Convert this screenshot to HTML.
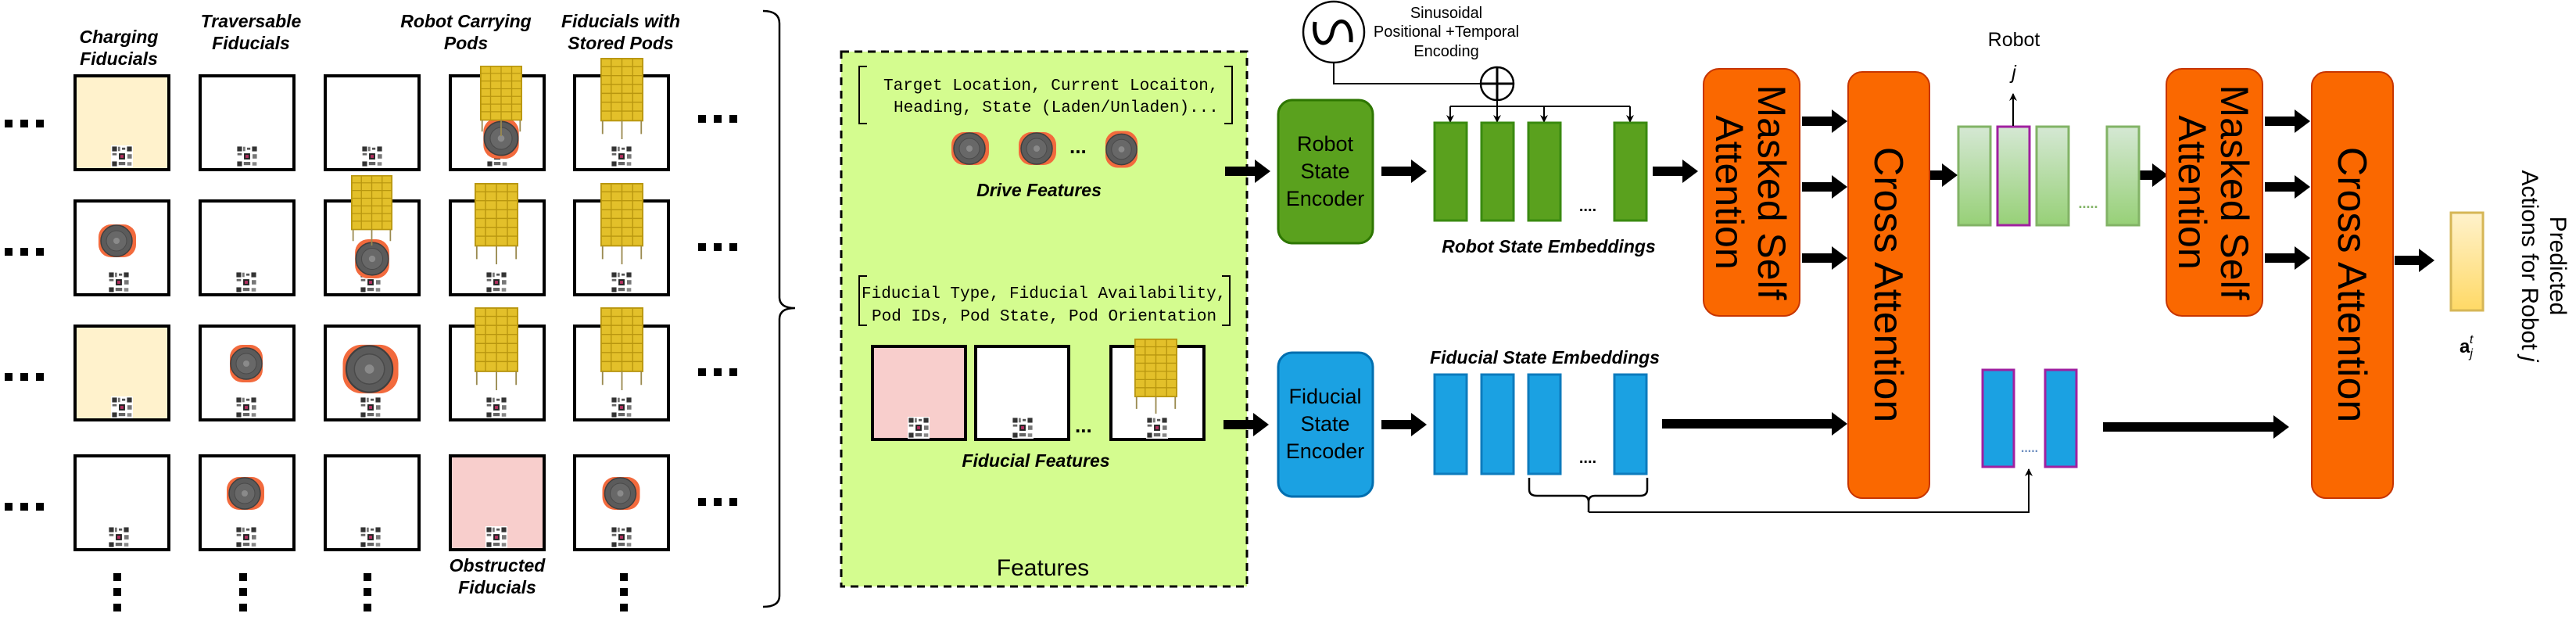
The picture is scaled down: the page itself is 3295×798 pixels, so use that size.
<!DOCTYPE html>
<html><head><meta charset="utf-8"><style>
html,body{margin:0;padding:0;background:#fff}
svg{display:block}
text{font-family:"Liberation Sans",Arial,sans-serif}
.hd{font-weight:bold;font-style:italic;font-size:23px;text-anchor:middle}
.mono{font-family:"Liberation Mono",monospace;font-size:21px}
</style></head><body>
<svg width="3295" height="798" viewBox="0 0 3295 798" xmlns="http://www.w3.org/2000/svg">
<defs>
<symbol id="robot" viewBox="0 0 100 100">
<rect x="2" y="8" width="96" height="84" rx="32" fill="#f26a3d"/>
<circle cx="48" cy="50" r="40" fill="#5b5b5b" stroke="#3f3f3f" stroke-width="3"/>
<circle cx="48" cy="50" r="26" fill="#686868" stroke="#4a4a4a" stroke-width="2"/>
<circle cx="48" cy="50" r="8" fill="#8a8a8a"/>
</symbol>
<symbol id="robotv" viewBox="0 0 100 100">
<rect x="8" y="2" width="84" height="96" rx="32" fill="#f26a3d"/>
<circle cx="50" cy="50" r="40" fill="#5b5b5b" stroke="#3f3f3f" stroke-width="3"/>
<circle cx="50" cy="50" r="26" fill="#686868" stroke="#4a4a4a" stroke-width="2"/>
<circle cx="50" cy="50" r="8" fill="#8a8a8a"/>
</symbol>
<symbol id="pod" viewBox="0 0 60 110" preserveAspectRatio="none">
<rect x="1" y="1" width="58" height="84" fill="#e3c02a" stroke="#b8960f" stroke-width="2"/>
<g stroke="#b8960f" stroke-width="1.5">
<line x1="30" y1="1" x2="30" y2="85"/>
<line x1="15" y1="1" x2="15" y2="85"/><line x1="45" y1="1" x2="45" y2="85"/>
<line x1="1" y1="12" x2="59" y2="12"/><line x1="1" y1="24" x2="59" y2="24"/>
<line x1="1" y1="36" x2="59" y2="36"/><line x1="1" y1="48" x2="59" y2="48"/>
<line x1="1" y1="60" x2="59" y2="60"/><line x1="1" y1="72" x2="59" y2="72"/>
</g>
<g stroke="#9a8a50" stroke-width="2"><line x1="3" y1="85" x2="3" y2="103"/><line x1="57" y1="85" x2="57" y2="103"/><line x1="30" y1="85" x2="30" y2="110"/></g>
</symbol>
<symbol id="qr" viewBox="0 0 10 10">
<rect width="10" height="10" fill="#fff"/>
<rect x="0.5" y="0.5" width="2.2" height="2.2" fill="#333"/><rect x="7.3" y="0.5" width="2.2" height="2.2" fill="#333"/><rect x="0.5" y="7.3" width="2.2" height="2.2" fill="#333"/>
<rect x="3.2" y="0.6" width="1" height="2" fill="#777"/><rect x="5" y="1" width="1.5" height="1" fill="#555"/><rect x="0.6" y="3.5" width="2" height="1" fill="#666"/>
<rect x="7.5" y="4" width="2" height="2" fill="#777"/><rect x="3.5" y="7.5" width="3" height="1.5" fill="#666"/><rect x="7.4" y="7.6" width="2" height="1.6" fill="#888"/>
<rect x="3.6" y="3.6" width="2.8" height="2.8" fill="#222"/><rect x="4.3" y="4.3" width="1.4" height="1.4" fill="#b03060"/>
</symbol>
<path id="ta" d="M0,-6 L38,-6 L38,-15 L58,0 L38,15 L38,6 L0,6 Z" fill="#000"/>
<marker id="ah" markerWidth="10" markerHeight="10" refX="9" refY="5" orient="auto" markerUnits="userSpaceOnUse"><path d="M0,0 L10,5 L0,10 L3,5 Z" fill="#000"/></marker>
<linearGradient id="lg" x1="0" y1="0" x2="0" y2="1"><stop offset="0" stop-color="#d5e8d4"/><stop offset="1" stop-color="#97d077"/></linearGradient>
<linearGradient id="yg" x1="0" y1="0" x2="0" y2="1"><stop offset="0" stop-color="#fff2cc"/><stop offset="1" stop-color="#ffd966"/></linearGradient>
</defs>

<!-- headers -->
<text class="hd" x="152" y="55">Charging</text><text class="hd" x="152" y="83">Fiducials</text>
<text class="hd" x="321" y="35">Traversable</text><text class="hd" x="321" y="63">Fiducials</text>
<text class="hd" x="596" y="35">Robot Carrying</text><text class="hd" x="596" y="63">Pods</text>
<text class="hd" x="794" y="35">Fiducials with</text><text class="hd" x="794" y="63">Stored Pods</text>
<text class="hd" x="636" y="731">Obstructed</text><text class="hd" x="636" y="759">Fiducials</text>

<!-- grid cells -->
<g stroke="#000" stroke-width="4">
<rect x="96" y="97" width="120" height="120" fill="#fff2cc"/>
<rect x="256" y="97" width="120" height="120" fill="#fff"/>
<rect x="416" y="97" width="120" height="120" fill="#fff"/>
<rect x="576" y="97" width="120" height="120" fill="#fff"/>
<rect x="735" y="97" width="120" height="120" fill="#fff"/>
<rect x="96" y="257" width="120" height="120" fill="#fff"/>
<rect x="256" y="257" width="120" height="120" fill="#fff"/>
<rect x="416" y="257" width="120" height="120" fill="#fff"/>
<rect x="576" y="257" width="120" height="120" fill="#fff"/>
<rect x="735" y="257" width="120" height="120" fill="#fff"/>
<rect x="96" y="417" width="120" height="120" fill="#fff2cc"/>
<rect x="256" y="417" width="120" height="120" fill="#fff"/>
<rect x="416" y="417" width="120" height="120" fill="#fff"/>
<rect x="576" y="417" width="120" height="120" fill="#fff"/>
<rect x="735" y="417" width="120" height="120" fill="#fff"/>
<rect x="96" y="583" width="120" height="120" fill="#fff"/>
<rect x="256" y="583" width="120" height="120" fill="#fff"/>
<rect x="416" y="583" width="120" height="120" fill="#fff"/>
<rect x="576" y="583" width="120" height="120" fill="#f8cecc"/>
<rect x="735" y="583" width="120" height="120" fill="#fff"/>
</g>
<!-- QR codes -->
<g>
<use href="#qr" x="142" y="186" width="28" height="28"/><use href="#qr" x="302" y="186" width="28" height="28"/><use href="#qr" x="462" y="186" width="28" height="28"/><use href="#qr" x="622" y="186" width="28" height="28"/><use href="#qr" x="781" y="186" width="28" height="28"/>
<use href="#qr" x="138" y="347" width="28" height="28"/><use href="#qr" x="301" y="347" width="28" height="28"/><use href="#qr" x="460" y="347" width="28" height="28"/><use href="#qr" x="621" y="347" width="28" height="28"/><use href="#qr" x="781" y="347" width="28" height="28"/>
<use href="#qr" x="142" y="507" width="28" height="28"/><use href="#qr" x="301" y="507" width="28" height="28"/><use href="#qr" x="460" y="507" width="28" height="28"/><use href="#qr" x="621" y="507" width="28" height="28"/><use href="#qr" x="781" y="507" width="28" height="28"/>
<use href="#qr" x="138" y="673" width="28" height="28"/><use href="#qr" x="301" y="673" width="28" height="28"/><use href="#qr" x="460" y="673" width="28" height="28"/><use href="#qr" x="621" y="673" width="28" height="28"/><use href="#qr" x="781" y="673" width="28" height="28"/>
</g>
<!-- robots & pods in grid -->
<use href="#robotv" x="605" y="150" width="72" height="54"/>
<use href="#pod" x="614" y="84" width="54" height="90"/>
<use href="#pod" x="768" y="74" width="55" height="104"/>
<use href="#robot" x="114" y="283" width="72" height="50"/>
<use href="#robotv" x="450" y="303" width="52" height="56"/>
<use href="#pod" x="449" y="224" width="53" height="90"/>
<use href="#pod" x="607" y="234" width="56" height="104"/>
<use href="#pod" x="768" y="234" width="55" height="104"/>
<use href="#robotv" x="290" y="429" width="50" height="72"/>
<use href="#robot" x="422" y="435" width="104" height="74"/>
<use href="#pod" x="607" y="393" width="56" height="106"/>
<use href="#pod" x="768" y="393" width="55" height="106"/>
<use href="#robot" x="279" y="606" width="70" height="50"/>
<use href="#robot" x="759" y="606" width="71" height="50"/>

<!-- dots -->
<g fill="#000">
<rect x="6" y="153" width="10" height="10"/><rect x="26" y="153" width="10" height="10"/><rect x="46" y="153" width="10" height="10"/>
<rect x="6" y="317" width="10" height="10"/><rect x="26" y="317" width="10" height="10"/><rect x="46" y="317" width="10" height="10"/>
<rect x="6" y="477" width="10" height="10"/><rect x="26" y="477" width="10" height="10"/><rect x="46" y="477" width="10" height="10"/>
<rect x="6" y="643" width="10" height="10"/><rect x="26" y="643" width="10" height="10"/><rect x="46" y="643" width="10" height="10"/>
<rect x="893" y="147" width="10" height="10"/><rect x="913" y="147" width="10" height="10"/><rect x="933" y="147" width="10" height="10"/>
<rect x="893" y="311" width="10" height="10"/><rect x="913" y="311" width="10" height="10"/><rect x="933" y="311" width="10" height="10"/>
<rect x="893" y="471" width="10" height="10"/><rect x="913" y="471" width="10" height="10"/><rect x="933" y="471" width="10" height="10"/>
<rect x="893" y="637" width="10" height="10"/><rect x="913" y="637" width="10" height="10"/><rect x="933" y="637" width="10" height="10"/>
<g id="vd"><rect x="145" y="733" width="10" height="10"/><rect x="145" y="752" width="10" height="10"/><rect x="145" y="772" width="10" height="10"/></g>
<use href="#vd" x="161"/><use href="#vd" x="320"/><use href="#vd" x="648"/>
</g>

<!-- brace -->
<path d="M976,14 Q997,14 997,30 L997,380 Q997,394 1017,394 Q997,394 997,408 L997,762 Q997,776 976,776" fill="none" stroke="#000" stroke-width="2.5"/>

<!-- Features box -->
<rect x="1076" y="66" width="519" height="684" fill="#d4fc8f" stroke="#000" stroke-width="3" stroke-dasharray="10,7"/>
<path d="M1109,85 L1099,85 L1099,158 L1109,158 M1566,85 L1576,85 L1576,158 L1566,158" fill="none" stroke="#000" stroke-width="2"/>
<text class="mono" x="1130" y="115">Target Location, Current Locaiton,</text>
<text class="mono" x="1143" y="143">Heading, State (Laden/Unladen)...</text>
<use href="#robot" x="1206" y="165" width="70" height="50"/>
<use href="#robot" x="1292" y="165" width="70" height="50"/>
<text x="1368" y="196" font-size="26" font-weight="bold">...</text>
<use href="#robotv" x="1410" y="155" width="49" height="72"/>
<text class="hd" x="1329" y="251">Drive Features</text>
<path d="M1109,353 L1099,353 L1099,416 L1109,416 M1563,353 L1573,353 L1573,416 L1563,416" fill="none" stroke="#000" stroke-width="2"/>
<text class="mono" x="1102" y="381">Fiducial Type, Fiducial Availability,</text>
<text class="mono" x="1115" y="410">Pod IDs, Pod State, Pod Orientation</text>
<g stroke="#000" stroke-width="4">
<rect x="1116" y="443" width="119" height="119" fill="#f8cecc"/>
<rect x="1248" y="443" width="119" height="119" fill="#fff"/>
<rect x="1421" y="443" width="119" height="119" fill="#fff"/>
</g>
<use href="#qr" x="1161" y="533" width="28" height="28"/><use href="#qr" x="1294" y="533" width="28" height="28"/><use href="#qr" x="1466" y="533" width="28" height="28"/>
<use href="#pod" x="1451" y="433" width="55" height="96"/>
<text x="1375" y="553" font-size="26" font-weight="bold">...</text>
<text class="hd" x="1325" y="597">Fiducial Features</text>
<text x="1334" y="736" font-size="30" text-anchor="middle">Features</text>

<!-- thick arrows -->
<use href="#ta" x="1567" y="219"/>
<use href="#ta" x="1565" y="543"/>
<use href="#ta" x="1767" y="219"/>
<use href="#ta" x="1767" y="543"/>
<use href="#ta" x="2114" y="219"/>
<use href="#ta" x="2305" y="155"/><use href="#ta" x="2305" y="239"/><use href="#ta" x="2305" y="330"/>
<use href="#ta" x="2897" y="155"/><use href="#ta" x="2897" y="239"/><use href="#ta" x="2897" y="330"/>
<g fill="#000">
<path d="M3063,327 L3094,327 L3094,318 L3114,333 L3094,348 L3094,339 L3063,339 Z"/>
<path d="M2468,218 L2484,218 L2484,209 L2504,224 L2484,239 L2484,230 L2468,230 Z"/>
<path d="M2737,218 L2753,218 L2753,209 L2773,224 L2753,239 L2753,230 L2737,230 Z"/>
<path d="M2126,536 L2343,536 L2343,527 L2363,542 L2343,557 L2343,548 L2126,548 Z"/>
<path d="M2690,540 L2908,540 L2908,531 L2928,546 L2908,561 L2908,552 L2690,552 Z"/>
</g>

<!-- encoders -->
<rect x="1635" y="128" width="121" height="183" rx="18" fill="#5aa11e" stroke="#2d7600" stroke-width="3"/>
<text font-size="27" text-anchor="middle"><tspan x="1695" y="193">Robot</tspan><tspan x="1695" y="228">State</tspan><tspan x="1695" y="263">Encoder</tspan></text>
<rect x="1635" y="451" width="121" height="184" rx="18" fill="#1ba1e2" stroke="#006eaf" stroke-width="3"/>
<text font-size="27" text-anchor="middle"><tspan x="1695" y="516">Fiducial</tspan><tspan x="1695" y="551">State</tspan><tspan x="1695" y="586">Encoder</tspan></text>

<!-- sinusoid -->
<circle cx="1706" cy="41" r="39" fill="#fff" stroke="#000" stroke-width="2.5"/>
<path d="M1682,28 C1678,60 1700,62 1704,42 C1708,20 1730,22 1728,54" fill="none" stroke="#000" stroke-width="5"/>
<text font-size="20" text-anchor="middle"><tspan x="1850" y="23">Sinusoidal</tspan><tspan x="1850" y="47">Positional +Temporal</tspan><tspan x="1850" y="72">Encoding</tspan></text>
<circle cx="1915" cy="107" r="21" fill="#fff" stroke="#000" stroke-width="2.5"/>
<path d="M1915,86 V128 M1894,107 H1936" stroke="#000" stroke-width="3"/>
<path d="M1706,80 V107 H1894" fill="none" stroke="#000" stroke-width="2"/>
<path d="M1915,128 V136 M1855,136 H2085" fill="none" stroke="#000" stroke-width="2"/>
<g stroke="#000" stroke-width="2" marker-end="url(#ah)">
<line x1="1855" y1="136" x2="1855" y2="156"/><line x1="1915" y1="136" x2="1915" y2="156"/><line x1="1975" y1="136" x2="1975" y2="156"/><line x1="2085" y1="136" x2="2085" y2="156"/>
</g>

<!-- embeddings -->
<g fill="#5aa11e" stroke="#3a8a10" stroke-width="3">
<rect x="1835" y="157" width="41" height="125"/><rect x="1895" y="157" width="41" height="125"/><rect x="1955" y="157" width="41" height="125"/><rect x="2065" y="157" width="41" height="125"/>
</g>
<text x="2031" y="270" font-size="20" text-anchor="middle" font-weight="bold">....</text>
<text class="hd" x="1981" y="323">Robot State Embeddings</text>
<text class="hd" x="1976" y="465">Fiducial State Embeddings</text>
<g fill="#1ba1e2" stroke="#0c7bbd" stroke-width="3">
<rect x="1835" y="479" width="41" height="127"/><rect x="1895" y="479" width="41" height="127"/><rect x="1955" y="479" width="41" height="127"/><rect x="2065" y="479" width="41" height="127"/>
</g>
<text x="2031" y="592" font-size="20" text-anchor="middle" font-weight="bold">....</text>
<path d="M1956,611 V626 Q1956,634 1966,634 H2024 Q2032,634 2032,642 V655 M2032,642 Q2032,634 2040,634 H2098 Q2107,634 2107,626 V611" fill="none" stroke="#000" stroke-width="2.5"/>
<path d="M2032,655 H2595 V600" fill="none" stroke="#000" stroke-width="2" marker-end="url(#ah)"/>

<!-- attention blocks -->
<rect x="2179" y="88" width="123" height="316" rx="20" fill="#fa6800" stroke="#c73500" stroke-width="2"/>
<text font-size="50" transform="translate(2240,246) rotate(90)" text-anchor="middle"><tspan x="0" y="-9">Masked Self</tspan><tspan x="0" y="45">Attention</tspan></text>
<rect x="2364" y="92" width="104" height="545" rx="18" fill="#fa6800" stroke="#c73500" stroke-width="2"/>
<text font-size="52" transform="translate(2416,364) rotate(90)" text-anchor="middle" y="18">Cross Attention</text>
<rect x="2771" y="88" width="123" height="316" rx="20" fill="#fa6800" stroke="#c73500" stroke-width="2"/>
<text font-size="50" transform="translate(2832,246) rotate(90)" text-anchor="middle"><tspan x="0" y="-9">Masked Self</tspan><tspan x="0" y="45">Attention</tspan></text>
<rect x="2957" y="92" width="104" height="545" rx="18" fill="#fa6800" stroke="#c73500" stroke-width="2"/>
<text font-size="52" transform="translate(3009,364) rotate(90)" text-anchor="middle" y="18">Cross Attention</text>

<!-- light green bars -->
<g fill="url(#lg)" stroke="#82b366" stroke-width="3">
<rect x="2505" y="162" width="41" height="126"/><rect x="2605" y="162" width="41" height="126"/><rect x="2695" y="162" width="41" height="126"/>
</g>
<rect x="2555" y="162" width="41" height="126" fill="url(#lg)" stroke="#a020a0" stroke-width="3"/>
<text x="2671" y="266" font-size="18" fill="#82b366" text-anchor="middle" font-weight="bold">.....</text>
<line x1="2575" y1="161" x2="2575" y2="120" stroke="#000" stroke-width="2" marker-end="url(#ah)"/>
<text x="2576" y="59" font-size="25" text-anchor="middle">Robot</text>
<text x="2576" y="101" font-size="25" font-style="italic" text-anchor="middle">j</text>

<!-- magenta blue bars -->
<rect x="2536" y="473" width="40" height="124" fill="#1ba1e2" stroke="#a020a0" stroke-width="3"/>
<rect x="2616" y="473" width="40" height="124" fill="#1ba1e2" stroke="#a020a0" stroke-width="3"/>
<text x="2596" y="578" font-size="16" fill="#6c8ebf" text-anchor="middle" font-weight="bold">.....</text>

<!-- output -->
<rect x="3135" y="272" width="41" height="125" fill="url(#yg)" stroke="#d6b656" stroke-width="3"/>
<text x="3146" y="451" font-size="24" font-weight="bold">a<tspan font-size="16" dy="6" font-style="italic" font-weight="normal">j</tspan><tspan font-size="16" dy="-18" dx="-4" font-style="italic" font-weight="normal">t</tspan></text>
<text font-size="30" transform="translate(3250,340) rotate(90)" text-anchor="middle"><tspan x="0" y="-12">Predicted</tspan><tspan x="0" y="24">Actions for Robot <tspan font-style="italic">j</tspan></tspan></text>
</svg>
</body></html>
